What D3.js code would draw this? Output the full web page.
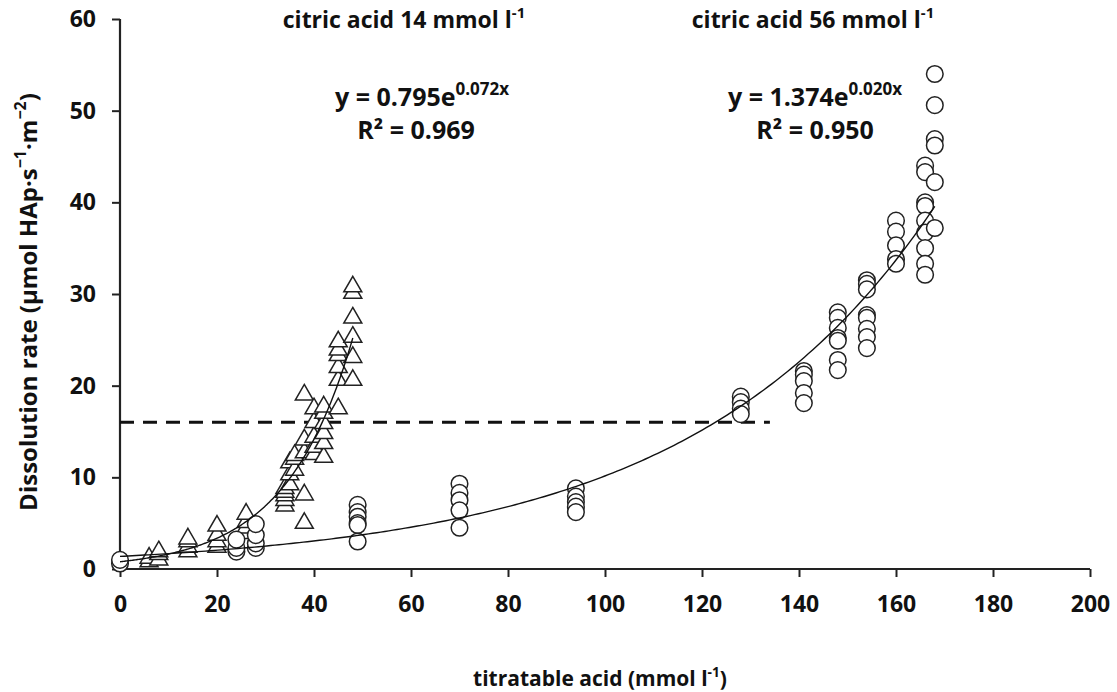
<!DOCTYPE html>
<html><head><meta charset="utf-8">
<script src="https://cdn.jsdelivr.net/npm/d3@7"></script>
<style>
body{margin:0;background:#fff;}
text{font-family:"Open Sans",Lato,sans-serif;font-weight:bold;fill:#111;}
</style></head>
<body><svg id="c" width="1117" height="692"></svg>
<script>
// ---- data ----
const xTicks = [0,20,40,60,80,100,120,140,160,180,200];
const yTicks = [0,10,20,30,40,50,60];

// citric acid 56 mmol/l (circles): x positions and measured rates
const circleX = [0, 24, 28, 49, 70, 94, 128, 141, 148, 154, 160, 166, 168];
const circleY = [
  [0.6, 1.0],
  [1.9, 2.3, 3.2],
  [2.3, 2.8, 3.7, 4.9],
  [7.0, 6.2, 5.7, 5.0, 4.8, 3.0],
  [9.3, 8.3, 7.5, 6.4, 4.5],
  [8.8, 7.9, 7.3, 6.8, 6.2],
  [18.8, 18.2, 17.5, 16.9],
  [21.6, 21.2, 20.5, 19.2, 18.1],
  [28.0, 27.4, 26.3, 25.2, 24.9, 22.8, 21.7],
  [31.5, 31.1, 30.5, 27.7, 27.4, 26.2, 25.3, 24.1],
  [38.0, 36.8, 35.3, 33.8, 33.3],
  [44.0, 43.3, 40.0, 39.6, 38.0, 36.7, 35.0, 33.3, 32.1],
  [54.0, 50.6, 46.9, 46.2, 42.2, 37.2]
];

// citric acid 14 mmol/l (triangles)
const triX = [6, 8, 14, 20, 26, 34, 35, 36, 38, 40, 42, 45, 48];
const triY = [
  [0.8, 1.2],
  [1.0, 1.6, 1.9],
  [1.9, 2.4, 3.0, 3.3],
  [2.4, 3.0, 3.7, 4.7],
  [3.9, 4.5, 5.1, 6.0],
  [6.9, 7.5, 8.0, 8.4, 8.8],
  [9.2, 10.3, 11.6],
  [10.8, 12.0, 12.4],
  [5.0, 8.1, 12.7, 14.1, 19.0],
  [12.5, 13.3, 14.4, 16.0, 17.5],
  [12.2, 13.7, 14.8, 15.9, 17.0, 17.7],
  [17.5, 20.6, 22.0, 23.3, 23.9, 24.8],
  [20.6, 23.1, 25.3, 27.4, 30.1, 30.8]
];

// exponential fits y = a*e^(b x) : [a, b, xStart, xEnd]
const fitTri = [0.795, 0.072, 0, 48];
const fitCircle = [1.374, 0.020, 0, 168];
// dashed reference level: [value, xStart, xEnd]
const refLine = [16, 0, 134];

// ---- drawing ----
const svg = d3.select("#c");
const x = d3.scaleLinear().domain([0,200]).range([120,1090]);
const y = d3.scaleLinear().domain([0,60]).range([569,19]);

const gx = svg.append("g").attr("transform","translate(0,569)")
  .call(d3.axisBottom(x).tickValues(xTicks).tickSize(8).tickPadding(19).tickFormat(d3.format("d")));
const gy = svg.append("g").attr("transform","translate(120,0)")
  .call(d3.axisLeft(y).tickValues(yTicks).tickSize(8).tickPadding(16).tickFormat(d3.format("d")));
[gx,gy].forEach(g=>{
  g.select(".domain").attr("stroke","#222").attr("stroke-width",2.2);
  g.selectAll(".tick line").attr("stroke","#222").attr("stroke-width",2);
  g.selectAll(".tick text").style("font-size","23px").style("font-family","'Open Sans'").style("font-weight","bold").attr("fill","#111");
});
gx.select(".domain").attr("d","M120,0H1090");
gy.select(".domain").attr("d","M0,569V19");

// dashed line
svg.append("line")
  .attr("x1",x(refLine[1])).attr("x2",x(refLine[2]))
  .attr("y1",y(refLine[0])).attr("y2",y(refLine[0]))
  .attr("stroke","#111").attr("stroke-width",3).attr("stroke-dasharray","14,9");

// triangles
const triPts = [];
triX.forEach((xv,i)=>triY[i].forEach(v=>triPts.push([xv,v])));
svg.append("g").selectAll("path").data(triPts).join("path")
  .attr("d", d3.symbol(d3.symbolTriangle, 140))
  .attr("transform", d=>`translate(${x(d[0])},${y(d[1])})`)
  .attr("fill","#fff").attr("stroke","#222").attr("stroke-width",1.5);

// circles
const cirPts = [];
circleX.forEach((xv,i)=>circleY[i].forEach(v=>cirPts.push([xv,v])));
svg.append("g").selectAll("circle").data(cirPts).join("circle")
  .attr("cx", d=>x(d[0])).attr("cy", d=>y(d[1])).attr("r",8.3)
  .attr("fill","#fff").attr("stroke","#222").attr("stroke-width",1.5);

// fit curves
function fitPath(f){
  const xs = d3.range(f[2], f[3]+0.0001, (f[3]-f[2])/200);
  return d3.line().x(d=>x(d)).y(d=>y(f[0]*Math.exp(f[1]*d)))(xs);
}
[fitTri, fitCircle].forEach(f=>{
  svg.append("path").attr("d",fitPath(f)).attr("fill","none")
    .attr("stroke","#111").attr("stroke-width",1.4);
});

// annotations
function supText(xp, yp, parts, size, supSize){
  const t = svg.append("text").attr("x",xp).attr("y",yp).attr("text-anchor","middle")
    .style("font-size",size+"px");
  parts.forEach(p=>{
    const s = t.append("tspan").text(p[0]);
    if(p[1]) s.attr("baseline-shift","super").style("font-size",(supSize||size*0.65)+"px");
  });
  return t;
}
supText(404, 28, [["citric acid 14 mmol l"],["-1",true]], 23);
supText(813, 28, [["citric acid 56 mmol l"],["-1",true]], 23);
supText(422, 106, [["y = 0.795e"],["0.072x",true]], 25, 17);
supText(416, 139, [["R² = 0.969"]], 25);
supText(815, 106, [["y = 1.374e"],["0.020x",true]], 25, 17);
supText(815, 139, [["R² = 0.950"]], 25);

// axis titles
supText(600, 686, [["titratable acid (mmol l"],["-1",true],[")"]], 21);
const yt = svg.append("text").attr("transform","translate(37,302) rotate(-90)")
  .attr("text-anchor","middle").style("font-size","24px");
yt.append("tspan").text("Dissolution rate (µmol HAp·s");
yt.append("tspan").text("−1").attr("baseline-shift","super").style("font-size","16px");
yt.append("tspan").text("·m");
yt.append("tspan").text("−2").attr("baseline-shift","super").style("font-size","16px");
yt.append("tspan").text(")");
</script></body></html>
